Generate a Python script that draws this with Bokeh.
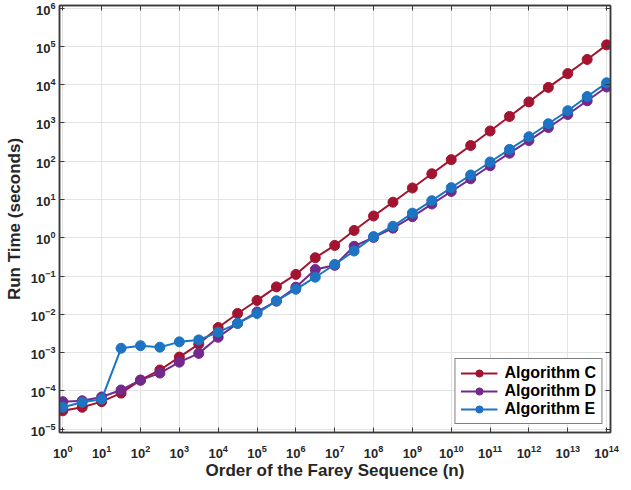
from bokeh.plotting import figure
from bokeh.models import FixedTicker, LogAxis, Legend, LegendItem, Range1d, CustomJSTickFormatter
from bokeh.embed import file_html
from bokeh.resources import INLINE

# Order of the Farey sequence (n), half-decade steps
n_values = [1e0, 3.16e0, 1e1, 3.16e1, 1e2, 3.16e2, 1e3, 3.16e3, 1e4, 3.16e4,
            1e5, 3.16e5, 1e6, 3.16e6, 1e7, 3.16e7, 1e8, 3.16e8, 1e9, 3.16e9,
            1e10, 3.16e10, 1e11, 3.16e11, 1e12, 3.16e12, 1e13, 3.16e13, 1e14]

# Run times in seconds
algorithm_c = [3.0e-5, 3.7e-5, 5.2e-5, 8.7e-5, 1.9e-4, 3.5e-4, 7.6e-4, 1.66e-3,
               4.5e-3, 1.05e-2, 2.3e-2, 5.2e-2, 0.11, 0.30, 0.63, 1.55, 3.7,
               8.5, 20, 47, 110, 257, 617, 1480, 3550, 8510, 19500, 45700, 110000]
algorithm_d = [5.2e-5, 5.5e-5, 6.9e-5, 1.05e-4, 1.9e-4, 2.9e-4, 5.6e-4, 9.5e-4,
               2.5e-3, 5.8e-3, 1.15e-2, 2.2e-2, 5.1e-2, 0.148, 0.19, 0.60, 1.02,
               1.78, 3.55, 7.6, 16.2, 34.7, 76, 162, 347, 759, 1660, 3800, 8710]
algorithm_e = [3.7e-5, 5.0e-5, 6.0e-5, 1.29e-3, 1.51e-3, 1.38e-3, 1.9e-3, 2.14e-3,
               3.4e-3, 5.8e-3, 1.05e-2, 2.24e-2, 4.5e-2, 9.3e-2, 0.20, 0.45, 1.07,
               2.0, 4.4, 9.3, 20.4, 43.7, 95.5, 204, 437, 955, 2090, 4900, 11200]

series_names = ["Algorithm C", "Algorithm D", "Algorithm E"]
series_values = [algorithm_c, algorithm_d, algorithm_e]
series_colors = ["#A2142F", "#72298C", "#1C74C2"]

x_exponents = list(range(0, 15))
y_exponents = list(range(-5, 7))

FONT = "Liberation Sans"
AXIS_COLOR = "#3a3a3a"

p = figure(width=622, height=482, x_axis_type="log", y_axis_type="log",
           x_range=Range1d(10 ** -0.085, 10 ** 14.1),
           y_range=Range1d(10 ** -5.09, 10 ** 6.07),
           output_backend="svg", toolbar_location=None,
           min_border_left=59, min_border_right=12, min_border_top=5,
           min_border_bottom=46)
p.background_fill_color = "white"
p.outline_line_color = AXIS_COLOR
p.outline_line_width = 1.5

xticks = FixedTicker(ticks=[10.0 ** k for k in x_exponents])
yticks = FixedTicker(ticks=[10.0 ** k for k in y_exponents])
p.xaxis.ticker = xticks
p.yaxis.ticker = yticks
p.xgrid.ticker = xticks
p.ygrid.ticker = yticks
for g in (p.xgrid, p.ygrid):
    g.grid_line_color = "#e3e3e3"
    g.grid_line_width = 1
    g.minor_grid_line_color = None


def style_axis(ax):
    ax.axis_line_color = AXIS_COLOR
    ax.axis_line_width = 1.5
    ax.major_tick_line_color = AXIS_COLOR
    ax.major_tick_line_width = 1
    ax.major_tick_in = 5
    ax.major_tick_out = 0
    ax.minor_tick_line_color = None
    ax.major_label_text_font = FONT
    ax.major_label_text_font_style = "bold"
    ax.major_label_text_font_size = "13px"
    ax.major_label_text_color = "#262626"
    ax.axis_label_text_font = FONT
    ax.axis_label_text_font_style = "bold"
    ax.axis_label_text_font_size = "17px"
    ax.axis_label_text_color = "#262626"


for ax in p.xaxis + p.yaxis:
    style_axis(ax)
p.xaxis.axis_label = "Order of the Farey Sequence (n)"
p.yaxis.axis_label = "Run Time (seconds)"
p.xaxis.major_label_standoff = 12
p.yaxis.major_label_standoff = 4
p.xaxis.axis_label_standoff = 0
p.yaxis.axis_label_standoff = 4

blank = CustomJSTickFormatter(code="return ' ';")
top_axis = LogAxis(ticker=xticks, formatter=blank)
right_axis = LogAxis(ticker=yticks, formatter=blank)
for ax in (top_axis, right_axis):
    style_axis(ax)
    ax.major_label_text_font_size = "1px"
    ax.major_label_text_alpha = 0
    ax.major_label_standoff = 0
p.add_layout(top_axis, "above")
p.add_layout(right_axis, "right")

items = []
for name, vals, col in zip(series_names, series_values, series_colors):
    ln = p.line(n_values, vals, line_color=col, line_width=2)
    sc = p.scatter(n_values, vals, size=10, fill_color=col, line_color=col)
    items.append(LegendItem(label=name, renderers=[ln, sc]))

legend = Legend(items=items, location="bottom_right")
legend.label_text_font = FONT
legend.label_text_font_style = "bold"
legend.label_text_font_size = "16px"
legend.label_text_color = "#000000"
legend.label_standoff = 7
legend.glyph_width = 37
legend.glyph_height = 18
legend.label_height = 18
legend.spacing = 0
legend.padding = 5
legend.margin = 8
legend.border_line_color = "#000000"
legend.border_line_width = 1
legend.background_fill_alpha = 1
p.add_layout(legend, "center")

open("out.html", "w").write(file_html(p, INLINE))
